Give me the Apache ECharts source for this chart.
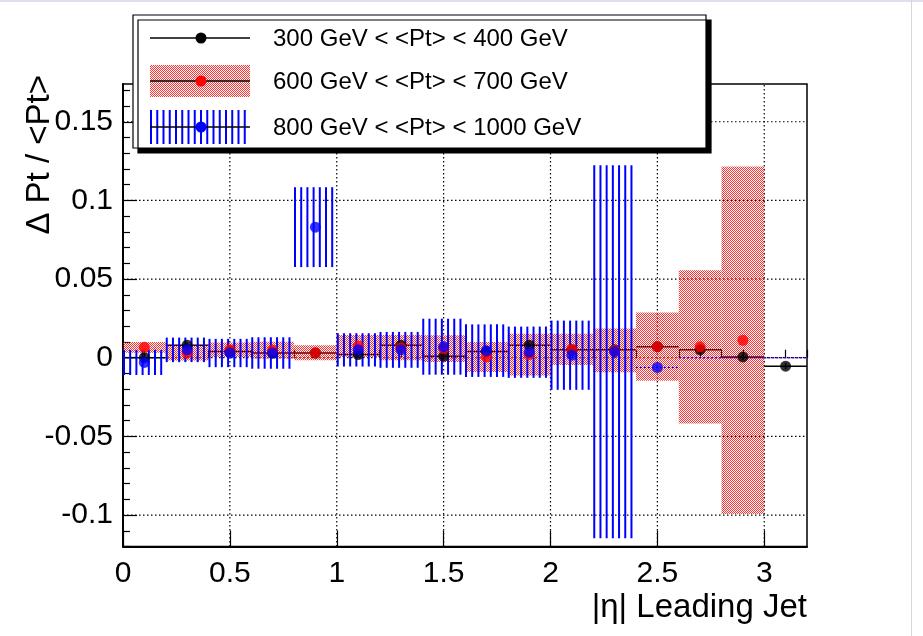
<!DOCTYPE html>
<html>
<head>
<meta charset="utf-8">
<script src="https://cdn.jsdelivr.net/npm/echarts@6/dist/echarts.min.js"></script>
<style>
  html, body { margin: 0; padding: 0; background: #ffffff; }
  #chart { width: 923px; height: 636px; }
</style>
</head>
<body>
<div id="chart"></div>
<script>
// |eta| bins of the leading jet (centres, width 0.2)
const etaBins = [0.1, 0.3, 0.5, 0.7, 0.9, 1.1, 1.3, 1.5, 1.7, 1.9, 2.1, 2.3, 2.5, 2.7, 2.9, 3.1];
const binHalfWidth = 0.1;

const seriesNames = [
  '300 GeV < <Pt> < 400 GeV',
  '600 GeV < <Pt> < 700 GeV',
  '800 GeV < <Pt> < 1000 GeV'
];

// Delta Pt / <Pt> per bin; null marks an empty bin
const pt300Values = [0.000, 0.008, 0.004, 0.003, 0.003, 0.002, 0.008, 0.001, 0.004, 0.008, 0.005, 0.005, 0.007, 0.005, 0.0005, -0.0054];
const pt300Errors = [0.0015, 0.0015, 0.0015, 0.0015, 0.0015, 0.0015, 0.0015, 0.0015, 0.0015, 0.0015, 0.0015, 0.0015, 0.002, 0.002, 0.002, 0.002];

const pt600Values = [0.0066, 0.003, 0.0051, 0.0048, 0.0032, 0.0075, 0.0064, 0.0058, 0.0005, 0.002, 0.0053, 0.0047, 0.007, 0.0069, 0.0111, null];
const pt600Errors = [0.0034, 0.0048, 0.0046, 0.0053, 0.0048, 0.007, 0.008, 0.0085, 0.0095, 0.0133, 0.010, 0.0139, 0.0217, 0.0487, 0.1105, 0];

const pt800Values = [-0.003, 0.005, 0.003, 0.003, 0.083, 0.005, 0.005, 0.007, 0.0045, 0.0035, 0.0016, 0.0038, -0.0062, null, null, null];
const pt800Errors = [0.008, 0.0078, 0.009, 0.010, 0.0254, 0.0106, 0.0114, 0.0178, 0.0167, 0.0163, 0.022, 0.1185, 0, 0, 0, 0];

// axis ranges and tick marks
const xRange = [0, 3.2];
const yRange = [-0.12, 0.174];
const xTicks = [0, 0.5, 1, 1.5, 2, 2.5, 3];
const yTicks = [-0.1, -0.05, 0, 0.05, 0.1, 0.15];
const xMinorStep = 0.1;
const yMinorStep = 0.01;

function minorTicks(range, step, majors) {
  const out = [];
  const first = Math.ceil(range[0] / step - 1e-9);
  const last = Math.floor(range[1] / step + 1e-9);
  for (let k = first; k <= last; k++) {
    const v = +(k * step).toFixed(6);
    if (!majors.some(m => Math.abs(m - v) < 1e-9)) out.push(v);
  }
  return out;
}
const xMinor = minorTicks(xRange, xMinorStep, xTicks);
const yMinor = minorTicks(yRange, yMinorStep, yTicks);

const FONT = "'Liberation Sans', Arial, Helvetica, sans-serif";
const RED = '#ff0000';
const BLUE = '#0000ff';

// fine red dot fill (checkerboard)
function makeDotPattern() {
  const c = document.createElement('canvas');
  c.width = 4; c.height = 4;
  const g = c.getContext('2d');
  g.fillStyle = RED;
  for (let i = 0; i < 4; i++) {
    for (let j = 0; j < 4; j++) {
      if ((i + j) % 2 === 0) g.fillRect(i, j, 1, 1);
    }
  }
  return { image: c, repeat: 'repeat' };
}
const redFill = makeDotPattern();
const redFillOpacity = 0.8;

function boxData(values, errors) {
  return etaBins.map((x, i) => [x, values[i] === null ? 0 : values[i], errors[i]]);
}
function markerData(values) {
  return etaBins.map((x, i) => values[i] === null ? null : [x, values[i]]).filter(d => d);
}

function flatLine(a, b, color) {
  return {
    type: 'line',
    shape: { x1: a[0], y1: a[1], x2: b[0], y2: a[1] },
    style: { stroke: color, lineWidth: 1.2, lineDash: [2, 2] }
  };
}

function renderRedBox(params, api) {
  const x = api.value(0), v = api.value(1), e = api.value(2);
  const a = api.coord([x - binHalfWidth, v + e]);
  const b = api.coord([x + binHalfWidth, v - e]);
  if (e === 0) return flatLine(a, b, RED);
  return {
    type: 'rect',
    shape: { x: a[0], y: a[1], width: b[0] - a[0], height: b[1] - a[1] },
    style: { fill: redFill, opacity: redFillOpacity }
  };
}

function renderBlueHatch(params, api) {
  const x = api.value(0), v = api.value(1), e = api.value(2);
  const a = api.coord([x - binHalfWidth, v + e]);
  const b = api.coord([x + binHalfWidth, v - e]);
  if (e === 0) return flatLine(a, b, BLUE);
  const children = [];
  for (let px = a[0] + 1; px < b[0] - 1; px += 6.2) {
    children.push({
      type: 'line',
      shape: { x1: px, y1: a[1], x2: px, y2: b[1] },
      style: { stroke: BLUE, lineWidth: 2 }
    });
  }
  return { type: 'group', children };
}

function renderBlackBars(params, api) {
  const x = api.value(0), v = api.value(1), e = api.value(2);
  const l = api.coord([x - binHalfWidth, v]);
  const r = api.coord([x + binHalfWidth, v]);
  const t = api.coord([x, v + e]);
  const d = api.coord([x, v - e]);
  return {
    type: 'group',
    children: [
      { type: 'line', shape: { x1: l[0], y1: l[1], x2: r[0], y2: r[1] }, style: { stroke: '#000', lineWidth: 1.5 } },
      { type: 'line', shape: { x1: t[0], y1: t[1], x2: d[0], y2: d[1] }, style: { stroke: '#000', lineWidth: 1.5 } }
    ]
  };
}

// dotted grid at the major ticks
function renderGridX(params, api) {
  const v = api.value(0);
  const a = api.coord([v, yRange[0]]);
  const b = api.coord([v, yRange[1]]);
  return { type: 'line', shape: { x1: a[0], y1: a[1], x2: b[0], y2: b[1] }, style: { stroke: '#000', lineWidth: 1.2, lineDash: [1.5, 2.5] } };
}
function renderGridY(params, api) {
  const v = api.value(1);
  const a = api.coord([xRange[0], v]);
  const b = api.coord([xRange[1], v]);
  return { type: 'line', shape: { x1: a[0], y1: a[1], x2: b[0], y2: b[1] }, style: { stroke: '#000', lineWidth: 1.2, lineDash: [1.5, 2.5] } };
}

const chart = echarts.init(document.getElementById('chart'), null, { renderer: 'canvas' });

const tickLabelStyle = { color: '#000', fontFamily: FONT, fontSize: 30 };

// legend box drawn as graphic elements, kept above the plot
const LZ = 100;
const legendX = 133, legendY = 15, legendW = 573, legendH = 133;
const symL = 150, symR = 250, symMid = 201, textX = 273;
const rowY = [38, 81, 127];
const legendHatch = [];
for (let px = symL + 1; px <= symR; px += 6.25) {
  legendHatch.push({
    type: 'line', z: LZ + 1,
    shape: { x1: px, y1: 110, x2: px, y2: 144 },
    style: { stroke: BLUE, lineWidth: 2 }
  });
}

const option = {
  animation: false,
  backgroundColor: '#ffffff',
  grid: {
    left: 123, right: 116, top: 84, bottom: 89.5,
    show: true, borderColor: '#000', borderWidth: 1.5, backgroundColor: 'transparent',
    outerBoundsMode: 'none', containLabel: false
  },
  xAxis: [
    {
      type: 'value', min: xRange[0], max: xRange[1], position: 'bottom',
      axisLine: { show: true, onZero: false, lineStyle: { color: '#000', width: 2 } },
      axisTick: { show: true, inside: true, length: 16, customValues: xTicks, lineStyle: { color: '#000', width: 1.2 } },
      axisLabel: { show: true, customValues: xTicks, margin: 12, ...tickLabelStyle },
      splitLine: { show: false }
    },
    {
      type: 'value', min: xRange[0], max: xRange[1], position: 'bottom', offset: 0,
      axisLine: { show: false },
      axisTick: { show: true, inside: true, length: 8, customValues: xMinor, lineStyle: { color: '#000', width: 1.2 } },
      axisLabel: { show: false },
      splitLine: { show: false }
    }
  ],
  yAxis: [
    {
      type: 'value', min: yRange[0], max: yRange[1], position: 'left',
      axisLine: { show: true, onZero: false, lineStyle: { color: '#000', width: 2 } },
      axisTick: { show: true, inside: true, length: 14, customValues: yTicks, lineStyle: { color: '#000', width: 1.2 } },
      axisLabel: { show: true, customValues: yTicks, margin: 10, ...tickLabelStyle },
      splitLine: { show: false }
    },
    {
      type: 'value', min: yRange[0], max: yRange[1], position: 'left', offset: 0,
      axisLine: { show: false },
      axisTick: { show: true, inside: true, length: 7, customValues: yMinor, lineStyle: { color: '#000', width: 1.2 } },
      axisLabel: { show: false },
      splitLine: { show: false }
    }
  ],
  series: [
    { type: 'custom', name: 'gridX', renderItem: renderGridX, data: xTicks.map(v => [v, 0]), silent: true },
    { type: 'custom', name: 'gridY', renderItem: renderGridY, data: yTicks.map(v => [0, v]), silent: true },
    { type: 'custom', name: seriesNames[0] + ' errors', renderItem: renderBlackBars, data: boxData(pt300Values, pt300Errors) },
    { type: 'scatter', name: seriesNames[0], data: markerData(pt300Values), symbol: 'circle', symbolSize: 11, itemStyle: { color: '#000' } },
    { type: 'custom', name: seriesNames[1] + ' errors', renderItem: renderRedBox, data: boxData(pt600Values, pt600Errors) },
    { type: 'scatter', name: seriesNames[1], data: markerData(pt600Values), symbol: 'circle', symbolSize: 11, itemStyle: { color: RED } },
    { type: 'custom', name: seriesNames[2] + ' errors', renderItem: renderBlueHatch, data: boxData(pt800Values, pt800Errors) },
    { type: 'scatter', name: seriesNames[2], data: markerData(pt800Values), symbol: 'circle', symbolSize: 11, itemStyle: { color: BLUE } }
  ],
  graphic: [
    // thin window edges along the top and right
    { type: 'rect', z: LZ, shape: { x: 0, y: 0, width: 923, height: 2 }, style: { fill: '#dde2ea' } },
    { type: 'rect', z: LZ, shape: { x: 911, y: 0, width: 1, height: 636 }, style: { fill: '#d4d8de' } },
    // axis titles
    {
      type: 'text', z: LZ, x: 40, y: 75, rotation: Math.PI / 2,
      style: { text: '\u0394 Pt / <Pt>', fill: '#000', font: '33px ' + FONT, textAlign: 'right', textVerticalAlign: 'middle' }
    },
    {
      type: 'text', z: LZ, x: 807, y: 608,
      style: { text: '|\u03b7| Leading Jet', fill: '#000', font: '33px ' + FONT, textAlign: 'right', textVerticalAlign: 'middle' }
    },
    // legend
    {
      type: 'rect', z: LZ, shape: { x: legendX, y: legendY, width: legendW, height: legendH },
      style: { fill: '#fff', stroke: '#000', lineWidth: 1.2, shadowColor: '#000', shadowOffsetX: 5, shadowOffsetY: 5, shadowBlur: 0 }
    },
    { type: 'line', z: LZ + 2, shape: { x1: symL, y1: rowY[0], x2: symR, y2: rowY[0] }, style: { stroke: '#000', lineWidth: 1.5 } },
    { type: 'circle', z: LZ + 3, shape: { cx: symMid, cy: rowY[0], r: 5.5 }, style: { fill: '#000' } },
    { type: 'text', z: LZ + 3, x: textX, y: rowY[0] + 1, style: { text: seriesNames[0], fill: '#000', font: '24px ' + FONT, textVerticalAlign: 'middle' } },

    { type: 'rect', z: LZ + 1, shape: { x: symL, y: 65, width: symR - symL, height: 32 }, style: { fill: redFill, opacity: redFillOpacity } },
    { type: 'line', z: LZ + 2, shape: { x1: symL, y1: rowY[1], x2: symR, y2: rowY[1] }, style: { stroke: '#000', lineWidth: 1.5 } },
    { type: 'circle', z: LZ + 3, shape: { cx: symMid, cy: rowY[1], r: 5.5 }, style: { fill: RED } },
    { type: 'text', z: LZ + 3, x: textX, y: rowY[1] + 1, style: { text: seriesNames[1], fill: '#000', font: '24px ' + FONT, textVerticalAlign: 'middle' } },

    ...legendHatch,
    { type: 'line', z: LZ + 2, shape: { x1: symL, y1: rowY[2], x2: symR, y2: rowY[2] }, style: { stroke: '#000', lineWidth: 1.5 } },
    { type: 'circle', z: LZ + 3, shape: { cx: symMid, cy: rowY[2], r: 5.5 }, style: { fill: BLUE } },
    { type: 'text', z: LZ + 3, x: textX, y: rowY[2] + 1, style: { text: seriesNames[2], fill: '#000', font: '24px ' + FONT, textVerticalAlign: 'middle' } }
  ]
};

chart.setOption(option);
</script>
</body>
</html>
